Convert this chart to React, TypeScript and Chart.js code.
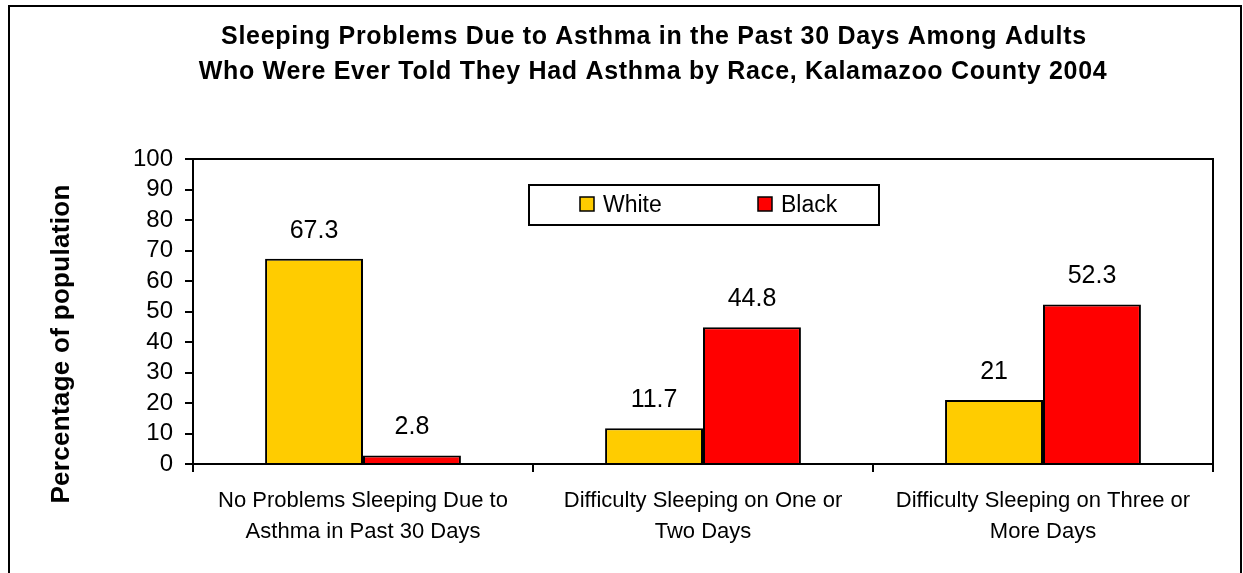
import React, { useEffect, useRef } from "react";
import { Chart, registerables } from "chart.js";

Chart.register(...registerables);

const categories: string[][] = [
  ["No Problems Sleeping Due to", "Asthma in Past 30 Days"],
  ["Difficulty Sleeping on One or", "Two Days"],
  ["Difficulty Sleeping on Three or", "More Days"],
];
const seriesNames = ["White", "Black"];
const whiteValues = [67.3, 11.7, 21];
const blackValues = [2.8, 44.8, 52.3];
const seriesColors = ["#FFCC00", "#FF0000"];
const titleLines = [
  "Sleeping Problems Due to Asthma in the Past 30 Days Among Adults",
  "Who Were Ever Told They Had Asthma by Race, Kalamazoo County 2004",
];
const yAxisTitle = "Percentage of population";
const yMin = 0;
const yMax = 100;
const yStep = 10;

const FONT = "'Liberation Sans', Arial, sans-serif";

const decorPlugin = {
  id: "decor",
  beforeDraw(chart: any) {
    const ctx = chart.ctx;
    ctx.save();
    ctx.fillStyle = "#fff";
    ctx.fillRect(0, 0, chart.width, chart.height);
    // outer frame
    ctx.strokeStyle = "#000";
    ctx.lineWidth = 2;
    ctx.beginPath();
    ctx.moveTo(9, chart.height + 5);
    ctx.lineTo(9, 6);
    ctx.lineTo(1241, 6);
    ctx.lineTo(1241, chart.height + 5);
    ctx.stroke();
    // title
    ctx.fillStyle = "#000";
    ctx.font = `bold 25px ${FONT}`;
    (ctx as any).letterSpacing = "0.7px";
    ctx.textAlign = "center";
    ctx.textBaseline = "middle";
    ctx.fillText(titleLines[0], 654, 37);
    ctx.fillText(titleLines[1], 653, 72);
    // y axis title
    ctx.save();
    ctx.translate(62, 344);
    ctx.rotate(-Math.PI / 2);
    ctx.font = `bold 26px ${FONT}`;
    (ctx as any).letterSpacing = "0.3px";
    ctx.fillText(yAxisTitle, 0, 0);
    ctx.restore();
    (ctx as any).letterSpacing = "0px";
    ctx.restore();
  },
  afterDatasetsDraw(chart: any) {
    const ctx = chart.ctx;
    const a = chart.chartArea;
    ctx.save();
    // plot border top/right
    ctx.strokeStyle = "#000";
    ctx.lineWidth = 2;
    ctx.beginPath();
    ctx.moveTo(a.left, a.top);
    ctx.lineTo(a.right, a.top);
    ctx.lineTo(a.right, a.bottom);
    ctx.stroke();
    // data labels
    ctx.fillStyle = "#000";
    ctx.font = `25px ${FONT}`;
    ctx.textAlign = "center";
    ctx.textBaseline = "alphabetic";
    chart.data.datasets.forEach((ds: any, di: number) => {
      const meta = chart.getDatasetMeta(di);
      meta.data.forEach((el: any, i: number) => {
        ctx.fillText(String(ds.data[i]), el.x, el.y - 21);
      });
    });
    // legend
    const lx = a.left + 336;
    const ly = a.top + 26;
    const lw = 350;
    const lh = 40;
    ctx.fillStyle = "#fff";
    ctx.fillRect(lx, ly, lw, lh);
    ctx.lineWidth = 2;
    ctx.strokeStyle = "#000";
    ctx.strokeRect(lx, ly, lw, lh);
    ctx.font = `23px ${FONT}`;
    ctx.textAlign = "left";
    ctx.textBaseline = "middle";
    const offs = [51, 229];
    chart.data.datasets.forEach((ds: any, di: number) => {
      const sx = lx + offs[di];
      const sy = ly + 12;
      ctx.fillStyle = ds.backgroundColor;
      ctx.fillRect(sx, sy, 14, 14);
      ctx.lineWidth = 1.5;
      ctx.strokeRect(sx, sy, 14, 14);
      ctx.fillStyle = "#000";
      ctx.fillText(ds.label, sx + 23, ly + lh / 2 + 1);
    });
    ctx.restore();
  },
};

export default function App() {
  const ref = useRef<HTMLCanvasElement | null>(null);
  useEffect(() => {
    if (!ref.current) return;
    const chart = new Chart(ref.current, {
      type: "bar",
      data: {
        labels: categories,
        datasets: [
          {
            label: seriesNames[0],
            data: whiteValues,
            backgroundColor: seriesColors[0],
            borderColor: "#000",
            borderWidth: 2,
            categoryPercentage: 0.576,
            barPercentage: 1,
          },
          {
            label: seriesNames[1],
            data: blackValues,
            backgroundColor: seriesColors[1],
            borderColor: "#000",
            borderWidth: 2,
            categoryPercentage: 0.576,
            barPercentage: 1,
          },
        ],
      },
      options: {
        responsive: false,
        animation: false,
        layout: { padding: { top: 159, right: 30, bottom: 0, left: 0 } },
        plugins: {
          legend: { display: false },
          title: { display: false },
          tooltip: { enabled: false },
        },
        scales: {
          x: {
            afterFit: (s: any) => {
              s.height = 109;
            },
            grid: {
              offset: true,
              drawOnChartArea: false,
              drawTicks: true,
              tickLength: 8,
              color: "#000",
              lineWidth: 2,
            },
            border: { display: true, color: "#000", width: 2 },
            ticks: {
              color: "#000",
              font: { family: FONT, size: 22, lineHeight: 1.4 },
              padding: 14,
              maxRotation: 0,
              autoSkip: false,
            },
          },
          y: {
            min: yMin,
            max: yMax,
            afterFit: (s: any) => {
              s.width = 193;
            },
            grid: {
              drawOnChartArea: false,
              drawTicks: true,
              tickLength: 8,
              color: "#000",
              lineWidth: 2,
            },
            border: { display: true, color: "#000", width: 2 },
            ticks: {
              stepSize: yStep,
              autoSkip: false,
              color: "#000",
              font: { family: FONT, size: 24 },
              padding: 12,
            },
          },
        },
      },
      plugins: [decorPlugin],
    });
    return () => chart.destroy();
  }, []);
  return (
    <div style={{ position: "absolute", left: 0, top: 0, width: 1243, height: 573 }}>
      <canvas ref={ref} width={1243} height={573} />
    </div>
  );
}
